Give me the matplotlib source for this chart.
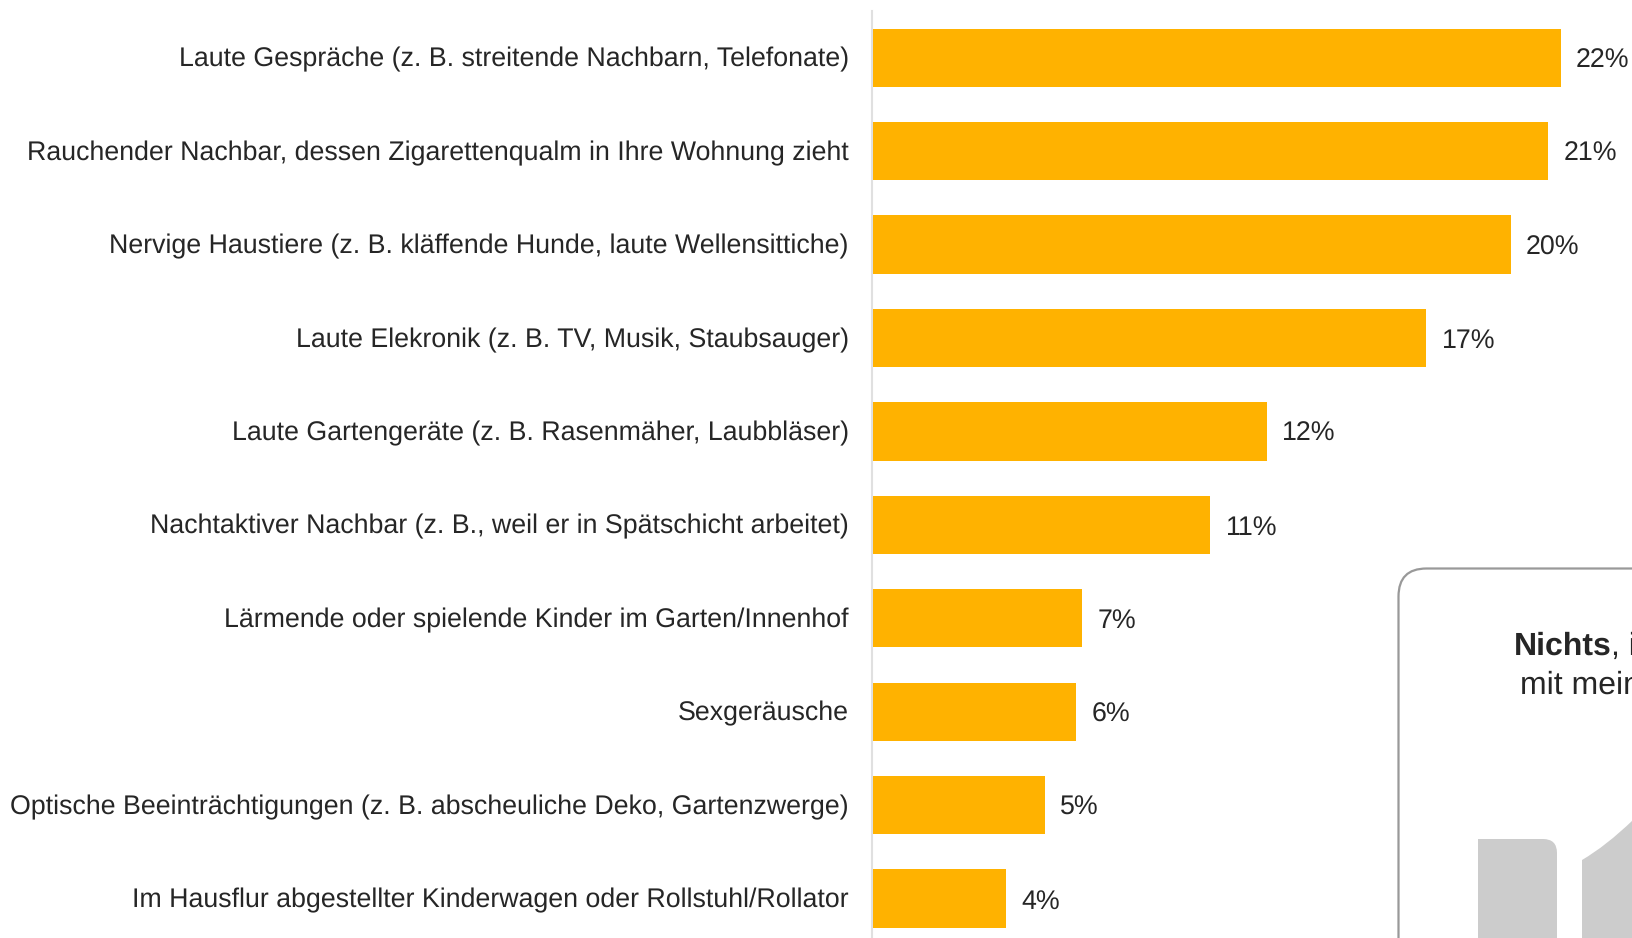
import matplotlib
matplotlib.use("Agg")
import matplotlib.pyplot as plt
from matplotlib.patches import FancyBboxPatch, PathPatch
from matplotlib.path import Path
from matplotlib.transforms import Affine2D

categories = [
    "Laute Gespräche (z. B. streitende Nachbarn, Telefonate)",
    "Rauchender Nachbar, dessen Zigarettenqualm in Ihre Wohnung zieht",
    "Nervige Haustiere (z. B. kläffende Hunde, laute Wellensittiche)",
    "Laute Elekronik (z. B. TV, Musik, Staubsauger)",
    "Laute Gartengeräte (z. B. Rasenmäher, Laubbläser)",
    "Nachtaktiver Nachbar (z. B., weil er in Spätschicht arbeitet)",
    "Lärmende oder spielende Kinder im Garten/Innenhof",
    "Sexgeräusche",
    "Optische Beeinträchtigungen (z. B. abscheuliche Deko, Gartenzwerge)",
    "Im Hausflur abgestellter Kinderwagen oder Rollstuhl/Rollator",
]
values = [22.0, 21.6, 20.4, 17.7, 12.6, 10.8, 6.7, 6.5, 5.5, 4.25]
value_labels = ["22%", "21%", "20%", "17%", "12%", "11%", "7%", "6%", "5%", "4%"]

W, H = 1633, 938
plt.rcParams["font.family"] = ["Liberation Sans", "DejaVu Sans"]
plt.rcParams["text.hinting"] = "no_hinting"
plt.rcParams["text.hinting_factor"] = 8
TEXT = "#262626"
fs = 19.3
fs_box = 23.0
fig = plt.figure(figsize=(W / 100, H / 100), dpi=100)
ax = fig.add_axes([0, 0, 1, 1])

X0, PXU = 872.7, 31.27
Y0, PITCH = 57.7, 93.43
ax.set_xlim(-X0 / PXU, (W - X0) / PXU)
ax.set_ylim((H - Y0) / PITCH, -Y0 / PITCH)
ypos = list(range(len(values)))
ax.barh(ypos, values, height=0.625, color="#FFB200", zorder=2)
for s in ax.spines.values():
    s.set_visible(False)
ax.set_xticks([])
ax.set_yticks(ypos)
ax.set_yticklabels([])
ax.tick_params(left=False)
for y, c, v, l in zip(ypos, categories, values, value_labels):
    ax.annotate(c, (0, y), xytext=(-24, 0.8), textcoords="offset pixels", ha="right",
                va="center_baseline", fontsize=fs, color=TEXT)
    ax.annotate(l, (v, y), xytext=(15.5, 0), textcoords="offset pixels", ha="left",
                va="center_baseline", fontsize=fs, color=TEXT)

px = Affine2D().scale(1, -1).translate(0, H)  # pixel coordinates, y down
ax.plot([872, 872], [11, H], color="#E0E0E0", lw=1.5, transform=px, zorder=1)

box = FancyBboxPatch((1398.5 + 28, 568.5 + 28), 400, 600, boxstyle="round,pad=28,rounding_size=28",
                     fc="white", ec="#999999", lw=1.6, transform=px, clip_on=False, zorder=1)
ax.add_patch(box)

t = ax.text(1513.5, 643, "Nichts", fontsize=fs_box, fontweight="bold", color=TEXT, transform=px,
            ha="left", va="center_baseline", zorder=3)
fig.canvas.draw()
bb = t.get_window_extent()
ax.text(bb.x1, 643, ", i", fontsize=fs_box, color=TEXT, transform=px, ha="left",
        va="center_baseline", zorder=3)
ax.text(1520.5, 682.5, "mit mein", fontsize=fs_box, color=TEXT, transform=px, ha="left",
        va="center_baseline", zorder=3)

icon1 = Path([(1478, 938), (1478, 839), (1543, 839), (1557, 839), (1557, 853), (1557, 938), (1478, 938)],
             [Path.MOVETO, Path.LINETO, Path.LINETO, Path.CURVE3, Path.CURVE3, Path.LINETO, Path.CLOSEPOLY])
ax.add_patch(PathPatch(icon1, fc="#CCCCCC", ec="none", transform=px, zorder=2))
icon2 = Path([(1582, 938), (1582, 860), (1606, 846), (1633, 820), (1633, 938), (1582, 938)],
             [Path.MOVETO, Path.LINETO, Path.CURVE3, Path.CURVE3, Path.LINETO, Path.CLOSEPOLY])
ax.add_patch(PathPatch(icon2, fc="#CCCCCC", ec="none", transform=px, zorder=2))

fig.savefig("out.png", dpi=100, facecolor="white")
